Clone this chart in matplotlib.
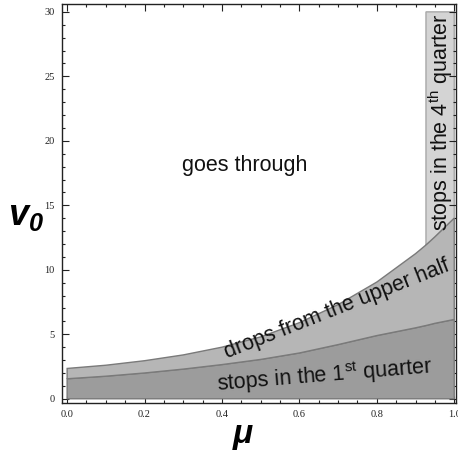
import numpy as np
import matplotlib
matplotlib.use("Agg")
import matplotlib.pyplot as plt
from matplotlib.ticker import MultipleLocator

# boundary curves
mu = [0.0, 0.1, 0.2, 0.3, 0.4, 0.5, 0.6, 0.7, 0.8, 0.9, 0.93, 0.95, 1.0]
v_first = [1.55, 1.75, 2.0, 2.3, 2.65, 3.05, 3.55, 4.2, 4.9, 5.5, 5.7, 5.85, 6.15]
v_upper = [2.35, 2.6, 2.95, 3.4, 4.0, 4.8, 5.9, 7.3, 9.05, 11.25, 12.0, 12.55, 14.0]
mu_fourth = 0.927   # left edge of the "4th quarter" strip
v_top = 30

xticks = [0.0, 0.2, 0.4, 0.6, 0.8, 1.0]
xticklabels = ["0.0", "0.2", "0.4", "0.6", "0.8", "1.0"]
yticks = [0, 5, 10, 15, 20, 25, 30]

mu = np.array(mu)
v_first = np.array(v_first)
v_upper = np.array(v_upper)

fig = plt.figure(figsize=(4.58, 4.5), dpi=100)
ax = fig.add_axes([0.135, 0.1044, 0.861, 0.887])

edge = "#7a7a7a"
# stops in the 1st quarter
ax.fill(np.concatenate([mu, mu[::-1]]),
        np.concatenate([v_first, np.zeros_like(mu)]),
        facecolor="#9c9c9c", edgecolor=edge, linewidth=1.0, zorder=2)
# drops from the upper half
ax.fill(np.concatenate([mu, mu[::-1]]),
        np.concatenate([v_upper, v_first[::-1]]),
        facecolor="#b6b6b6", edgecolor=edge, linewidth=1.0, zorder=2)
# stops in the 4th quarter
m = mu >= mu_fourth - 1e-9
ms = np.concatenate([[mu_fourth], mu[m]])
vs = np.concatenate([[np.interp(mu_fourth, mu, v_upper)], v_upper[m]])
ax.fill(np.concatenate([ms, ms[::-1]]),
        np.concatenate([vs, np.full_like(vs, v_top)]),
        facecolor="#d4d4d4", edgecolor="#a8a8a8", linewidth=1.0, zorder=1)

tfont = dict(family="Liberation Sans", fontsize=15.5, color="#111111")
ax.text(0.459, 18.1, "goes through", ha="center", va="center", **tfont)
ax.text(0.696, 6.95, "drops from the upper half", ha="center", va="center",
        rotation=21.5, rotation_mode="anchor", zorder=5, **tfont)
ax.text(0.666, 1.85, r"stops in the 1$^{\mathregular{st}}$ quarter", ha="center",
        va="center", rotation=4.7, rotation_mode="anchor", zorder=5, **tfont)
ax.text(0.965, 21.4, r"stops in the 4$^{\mathregular{th}}$ quarter", ha="center",
        va="center", rotation=90, rotation_mode="anchor", zorder=5, **tfont)

ax.set_xlim(-0.0137, 1.005)
ax.set_ylim(-0.33, 30.62)
ax.set_xticks(xticks)
ax.set_xticklabels(xticklabels)
ax.set_yticks(yticks)
ax.xaxis.set_minor_locator(MultipleLocator(0.05))
ax.yaxis.set_minor_locator(MultipleLocator(1))
ax.tick_params(which="both", direction="in", top=True, right=True,
               width=0.8, colors="#222222", labelsize=7.5, pad=5)
ax.tick_params(which="major", length=5)
ax.tick_params(which="minor", length=2.5)
for lab in ax.get_xticklabels() + ax.get_yticklabels():
    lab.set_family("Liberation Serif")
for s in ax.spines.values():
    s.set_linewidth(1.0)
    s.set_color("#222222")

ax.set_ylabel(r"$\mathregular{v_0}$", family="Liberation Sans", fontsize=26,
              fontweight="bold", style="italic", rotation=0, ha="center", va="center")
ax.yaxis.set_label_coords(-0.09, 0.47)
ax.set_xlabel("μ", family="Liberation Sans", fontsize=24, fontweight="bold",
              style="italic", ha="center", va="center")
ax.xaxis.set_label_coords(0.46, -0.078)

fig.savefig("out.png", dpi=100)
